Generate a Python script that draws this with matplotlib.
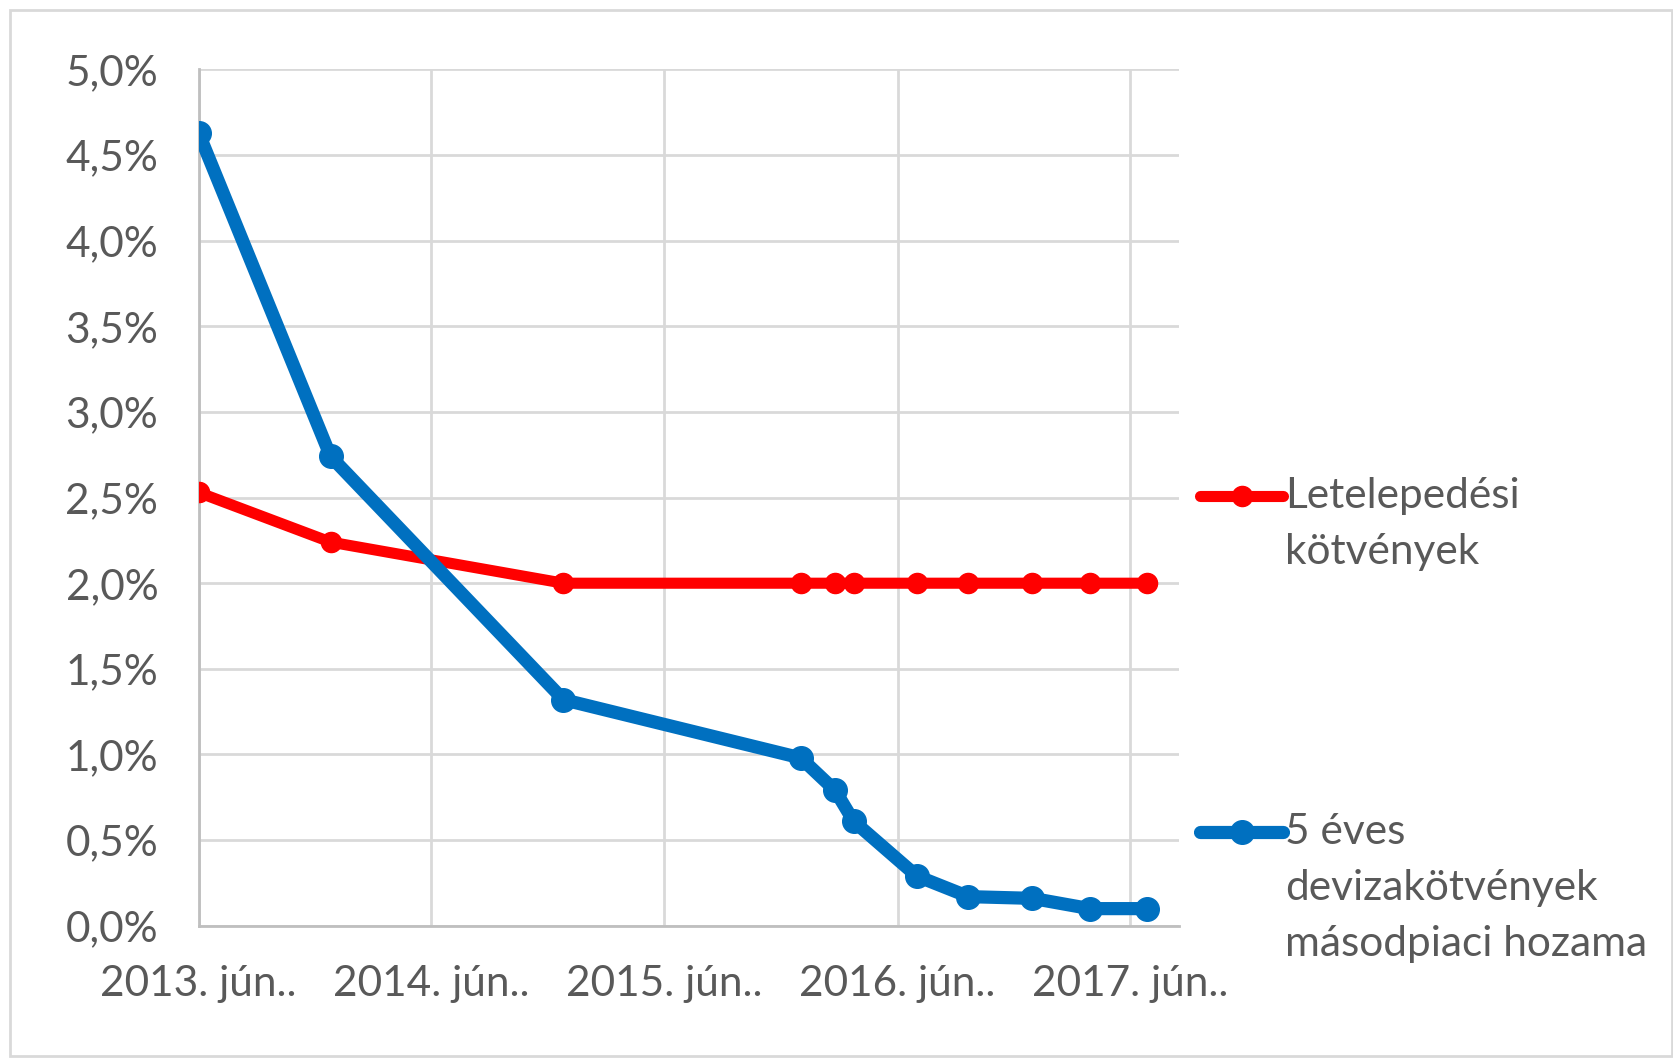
import matplotlib
matplotlib.use("Agg")
import matplotlib.pyplot as plt
from matplotlib.lines import Line2D
from matplotlib.patches import Rectangle
from matplotlib.ticker import FuncFormatter, MultipleLocator
import numpy as np

plt.rcParams['font.family'] = ['Lato', 'DejaVu Sans']

# adatok (leolvasva az ábráról)
datumok = ['2013-06-01', '2013-12-25', '2014-12-25', '2016-01-01', '2016-02-24',
           '2016-03-24', '2016-07-01', '2016-09-20', '2016-12-29', '2017-03-29',
           '2017-06-27']
letelepedesi = [2.53, 2.24, 2.00, 2.00, 2.00, 2.00, 2.00, 2.00, 2.00, 2.00, 2.00]
deviza_5eves = [4.63, 2.74, 1.32, 0.98, 0.79, 0.61, 0.29, 0.17, 0.16, 0.10, 0.10]
cimkek = ['Letelepedési\nkötvények', '5 éves\ndevizakötvények\nmásodpiaci hozama']
tick_evek = ['2013-06-01', '2014-06-01', '2015-06-01', '2016-06-01', '2017-06-01']

piros = '#FF0000'
kek = '#0070C0'
szurke = '#595959'
racs = '#D9D9D9'
betu = 30.5

x = np.array(datumok, dtype='datetime64[D]')

fig = plt.figure(figsize=(16.73, 10.58), dpi=100)
ax = fig.add_axes([0.1187, 0.1250, 0.5860, 0.8094])

ax.plot(x, letelepedesi, color=piros, lw=8, marker='o', ms=14.5, zorder=3)
ax.plot(x, deviza_5eves, color=kek, lw=9.5, marker='o', ms=17, zorder=4)

ax.set_ylim(0, 5.0)
ax.set_xlim(np.datetime64('2013-06-01'), np.datetime64('2017-08-16'))
ax.yaxis.set_major_locator(MultipleLocator(0.5))
ax.yaxis.set_major_formatter(FuncFormatter(lambda v, p: ('%.1f%%' % v).replace('.', ',')))
ax.set_xticks(np.array(tick_evek, dtype='datetime64[D]'))
ax.set_xticklabels([t[:4] + '. jún..' for t in tick_evek])

ax.grid(True, color=racs, lw=2)
ax.set_axisbelow(True)
for s in ['top', 'right']:
    ax.spines[s].set_visible(False)
for s in ['left', 'bottom']:
    ax.spines[s].set_color('#BFBFBF')
    ax.spines[s].set_linewidth(2)
ax.tick_params(axis='both', length=0, labelsize=betu, labelcolor=szurke)
ax.tick_params(axis='y', pad=29)
ax.tick_params(axis='x', pad=28)

# jelmagyarázat, Excel módra
W, H = 1673, 1058
for szin, lw, ms, ypx, cimke in [(piros, 8, 14.5, 496, cimkek[0]), (kek, 9.5, 17, 832, cimkek[1])]:
    fig.add_artist(Line2D([1200 / W, 1283 / W], [1 - ypx / H] * 2, color=szin, lw=lw,
                          solid_capstyle='round'))
    fig.add_artist(Line2D([1241.5 / W], [1 - ypx / H], color=szin, marker='o', ms=ms))
    for i, sor in enumerate(cimke.split('\n')):
        fig.text(1285 / W, 1 - (ypx + i * 56) / H, sor, fontsize=betu, color=szurke,
                 va='center', ha='left')

fig.add_artist(Rectangle((10 / W, 2 / H), 1662 / W, 1046 / H, fill=False,
                         edgecolor='#D9D9D9', lw=2))

fig.savefig('out.png', dpi=100)
